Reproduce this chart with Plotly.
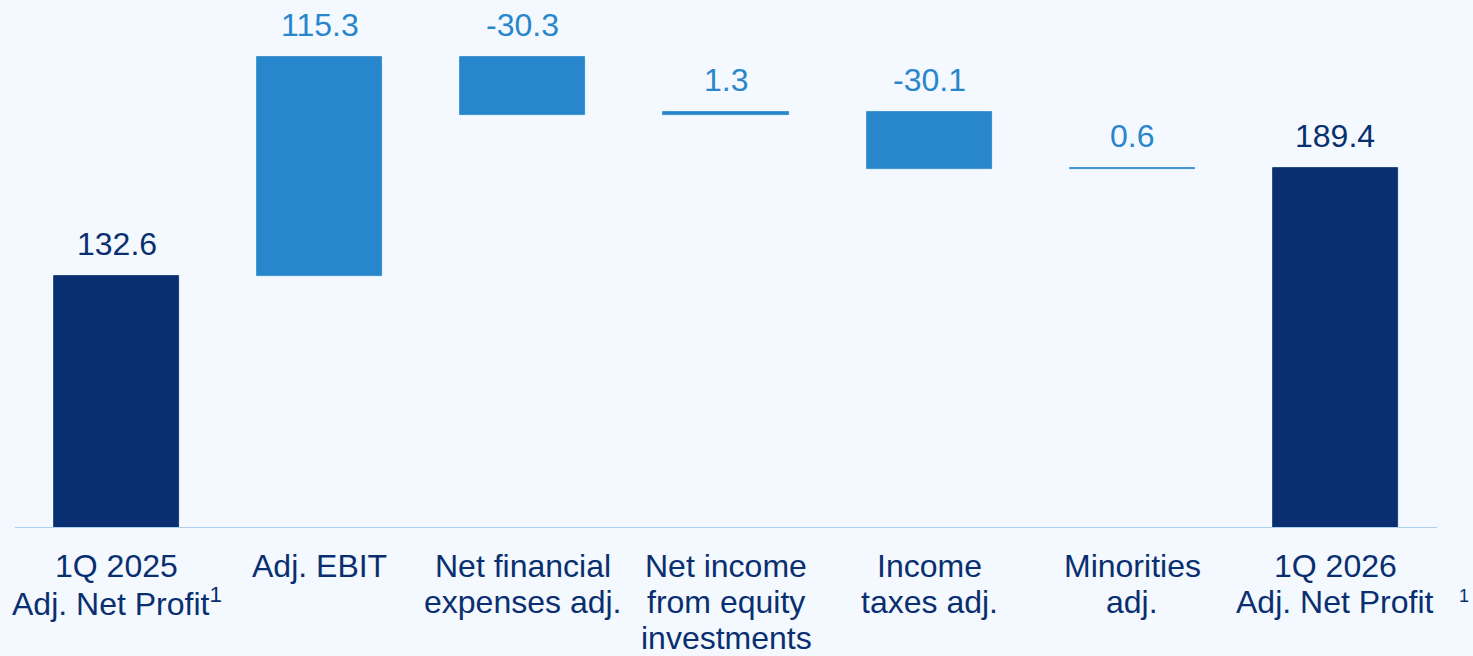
import plotly.graph_objects as go

# Bridge from 1Q 2025 to 1Q 2026 adjusted net profit (EUR m)
categories = ["q25", "ebit", "fin", "equity", "tax", "minor", "q26"]
label_lines = [
    ["1Q 2025", "Adj. Net Profit<sup>1</sup>"],
    ["Adj. EBIT"],
    ["Net financial", "expenses adj."],
    ["Net income", "from equity", "investments"],
    ["Income", "taxes adj."],
    ["Minorities", "adj."],
    ["1Q 2026", "Adj. Net Profit"],
]
values = [132.6, 115.3, -30.3, 1.3, -30.1, 0.6, 189.4]
measures = ["total", "relative", "relative", "relative", "relative", "relative", "total"]

NAVY = "#0A2F70"
BLUE = "#2886CC"
BG = "#F3F9FE"
FONT = "Liberation Sans, Arial"

# Floating bar geometry computed from the running total
bases, heights, tops, colors = [], [], [], []
running = 0.0
for v, m in zip(values, measures):
    if m == "total":
        base, h = 0.0, v
        running = v
        colors.append(NAVY)
    else:
        start = running
        running = running + v
        base, h = min(start, running), abs(v)
        colors.append(BLUE)
    bases.append(base)
    heights.append(h)
    tops.append(base + h)

fig = go.Figure()
fig.add_trace(go.Bar(
    x=categories, y=heights, base=bases,
    marker=dict(color=colors, line=dict(color=colors, width=0.8)),
    width=0.616, hoverinfo="skip",
))

# Value labels above each bar
for c, v, t, col in zip(categories, values, tops, colors):
    fig.add_annotation(
        x=c, y=t, text=f"{v:.1f}", showarrow=False,
        yanchor="bottom", yshift=12,
        font=dict(family=FONT, size=32, color=col),
    )

# Multi-line category labels below the baseline
for c, lines in zip(categories, label_lines):
    for i, line in enumerate(lines):
        fig.add_annotation(
            x=c, y=0, yref="paper", text=line, showarrow=False,
            yanchor="middle", yshift=-38 - 36 * i,
            font=dict(family=FONT, size=32, color=NAVY),
        )

# Footnote marker for the closing total
fig.add_annotation(
    x=categories[-1], y=0, yref="paper", text="1", showarrow=False,
    xanchor="left", xshift=122, yanchor="middle", yshift=-68,
    font=dict(family=FONT, size=18, color=NAVY),
)

# Baseline
fig.add_shape(type="line", xref="paper", yref="y", x0=0, x1=1, y0=0, y1=0,
              line=dict(color="#AFCFF0", width=2))

fig.update_layout(
    width=1473, height=656,
    margin=dict(l=15, r=36, t=0, b=128),
    paper_bgcolor=BG, plot_bgcolor=BG,
    showlegend=False,
    xaxis=dict(range=[-0.5, 6.5], showticklabels=False, showgrid=False,
               zeroline=False, showline=False, fixedrange=True),
    yaxis=dict(range=[0, 277.9], visible=False, fixedrange=True),
    bargap=0,
)

fig.write_html("out.html")
